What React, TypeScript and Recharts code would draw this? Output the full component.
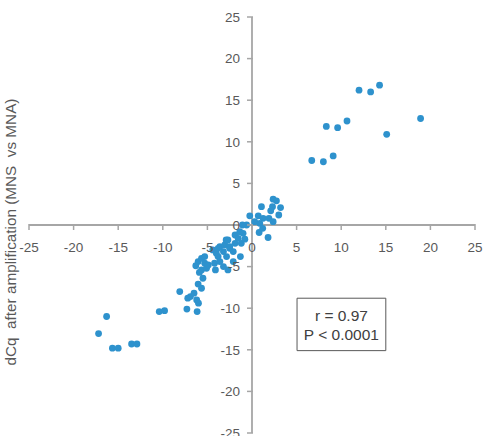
import React from 'react';
import { ScatterChart, Scatter, XAxis, YAxis, ReferenceLine, ReferenceArea } from 'recharts';

const upperRight = [
  [14.3, 16.8], [12.0, 16.2], [13.3, 16.0], [18.9, 12.8], [10.65, 12.5], [8.33, 11.85],
  [9.6, 11.7], [15.1, 10.9], [6.7, 7.75], [8.0, 7.6], [9.1, 8.3],
];
const lowerLeft = [
  [-17.2, -13.05], [-16.3, -11.0], [-15.65, -14.8], [-15.0, -14.8], [-13.5, -14.3], [-12.9, -14.3],
  [-10.4, -10.4], [-9.8, -10.3],
];
const middleLower = [
  [-8.1, -8.0], [-7.3, -10.1], [-7.2, -8.8], [-6.9, -8.6], [-6.5, -8.2], [-6.2, -9.0], [-6.0, -9.4],
  [-6.15, -10.4], [-5.66, -7.6], [-6.04, -7.1], [-5.5, -6.4], [-5.9, -5.7], [-5.66, -5.4], [-6.3, -4.9],
  [-6.04, -4.4], [-5.66, -4.0], [-5.3, -4.6], [-5.1, -5.2], [-4.9, -4.8], [-5.3, -3.8], [-4.4, -3.0],
  [-4.2, -4.6], [-4.0, -3.4], [-3.8, -3.8], [-3.6, -4.4], [-3.2, -5.0], [-3.6, -2.6], [-3.05, -2.4],
  [-3.2, -3.2], [-2.85, -3.8], [-2.5, -2.8], [-2.7, -1.8], [-2.1, -3.2], [-2.1, -4.4], [-2.9, -1.8],
  [-2.5, -2.6], [-1.9, -2.2], [-1.2, -2.2], [-1.9, -1.2], [-1.55, -1.6], [-0.8, -1.7], [-1.0, -1.0],
  [-1.37, -0.8], [-0.6, 0.0], [-1.3, -3.8], [-2.7, -5.4], [-4.1, -5.4], [-3.8, -2.8], [-1.07, 0.0],
];
const upperCenter = [
  [2.37, 3.1], [2.74, 2.9], [1.06, 2.2], [2.3, 2.2], [3.2, 2.1], [2.1, 1.7], [3.0, 1.2], [-0.25, 1.1],
  [0.7, 1.1], [1.25, 0.8], [1.9, 0.8], [2.37, 0.4], [0.87, 0.2], [0.3, 0.4], [0.8, -0.9], [1.8, -1.5],
  [1.2, -0.4],
];

const xTickValues = [-25, -20, -15, -10, -5, 0, 5, 10, 15, 20, 25];
const yTickValues = [-25, -20, -15, -10, -5, 0, 5, 10, 15, 20, 25];

const yLabel = 'dCq  after amplification (MNS  vs MNA)';
const statLines = ['r = 0.97', 'P < 0.0001'];
const statBox = { x1: 5.05, x2: 15.0, y1: -15.1, y2: -8.8 };

const points = [...upperRight, ...lowerLeft, ...middleLower, ...upperCenter].map(([x, y]) => ({ x, y }));
const xTickData = xTickValues.map((v) => ({ x: v, y: 0, label: String(v) }));
const yTickData = yTickValues.map((v) => ({ x: 0, y: v, label: String(v) }));

const AXIS = '#a6a6a6';
const TEXT = '#595959';
const DOT = '#2e92cd';
const FONT = 'Liberation Sans, Arial, sans-serif';

const Dot = (p: any) => <circle cx={p.cx} cy={p.cy} r={3.4} fill={DOT} />;

const XTick = (p: any) => (
  <g>
    <line x1={p.cx} x2={p.cx} y1={p.cy - 1} y2={p.cy + 5} stroke={AXIS} strokeWidth={1.5} />
    <text x={p.cx} y={p.cy + 27} textAnchor="middle" fontSize={13.5} fill={TEXT} fontFamily={FONT}>
      {p.payload.label}
    </text>
  </g>
);

const YTick = (p: any) => (
  <g>
    <line x1={p.cx - 5} x2={p.cx + 1} y1={p.cy} y2={p.cy} stroke={AXIS} strokeWidth={1.5} />
    <text x={p.cx - 12} y={p.cy} dy="0.36em" textAnchor="end" fontSize={13.5} fill={TEXT} fontFamily={FONT}>
      {p.payload.label}
    </text>
  </g>
);

const YLabel = (props: any) => {
  const vb = props.viewBox || {};
  const cx = vb.x + 10;
  const cy = vb.y + vb.height / 2 + 7;
  return (
    <text
      x={cx}
      y={cy}
      transform={`rotate(-90 ${cx} ${cy})`}
      textAnchor="middle"
      dominantBaseline="central"
      fontSize={15.3}
      fill={TEXT}
      fontFamily={FONT}
      style={{ whiteSpace: 'pre' }}
    >
      {yLabel}
    </text>
  );
};

const StatLabel = (props: any) => {
  const vb = props.viewBox || {};
  const cx = vb.x + vb.width / 2;
  const cy = vb.y + vb.height / 2;
  return (
    <g>
      <text x={cx} y={cy - 9} dy="0.36em" textAnchor="middle" fontSize={15.5} fill="#404040" fontFamily={FONT}>
        {statLines[0]}
      </text>
      <text x={cx} y={cy + 10} dy="0.36em" textAnchor="middle" fontSize={15.5} fill="#404040" fontFamily={FONT}>
        {statLines[1]}
      </text>
    </g>
  );
};

export default function App() {
  return (
    <div style={{ position: 'absolute', left: 0, top: 0, width: 486, height: 436, background: '#fff' }}>
      <ScatterChart width={486} height={436} margin={{ top: 17, right: 11, bottom: 3, left: 0 }}>
        <XAxis type="number" dataKey="x" domain={[-25, 25]} ticks={xTickValues} hide />
        <YAxis
          type="number"
          dataKey="y"
          domain={[-25, 25]}
          ticks={yTickValues}
          width={29}
          axisLine={false}
          tickLine={false}
          tick={false}
          label={<YLabel />}
        />
        <ReferenceLine y={0} stroke={AXIS} strokeWidth={1.8} />
        <ReferenceLine x={0} stroke={AXIS} strokeWidth={1.8} />
        <ReferenceArea
          x1={statBox.x1}
          x2={statBox.x2}
          y1={statBox.y1}
          y2={statBox.y2}
          fill="#ffffff"
          fillOpacity={1}
          stroke="#595959"
          strokeWidth={1}
          label={<StatLabel />}
        />
        <Scatter data={points} shape={Dot} isAnimationActive={false} />
        <Scatter data={xTickData} shape={XTick} isAnimationActive={false} />
        <Scatter data={yTickData} shape={YTick} isAnimationActive={false} />
      </ScatterChart>
    </div>
  );
}
